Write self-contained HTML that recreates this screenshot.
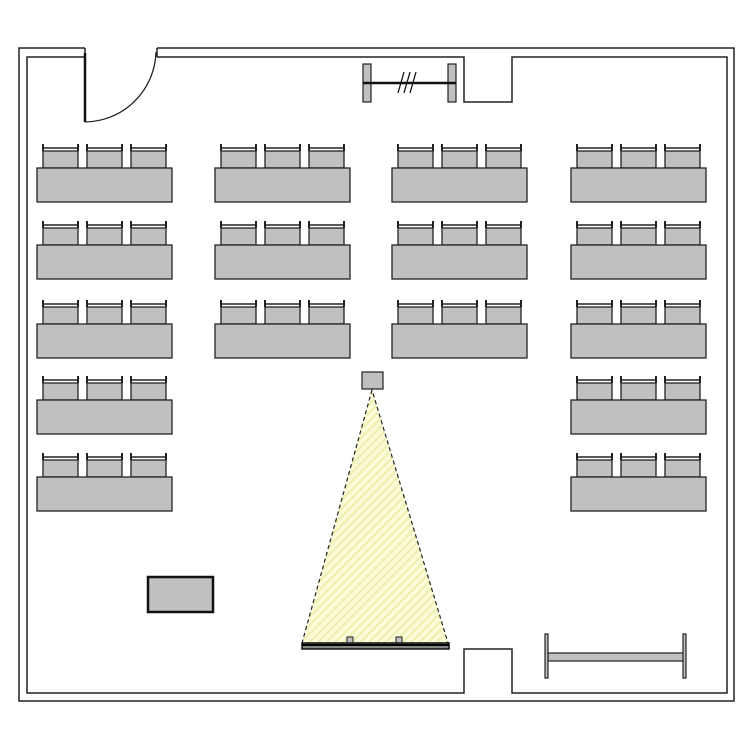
<!DOCTYPE html>
<html><head><meta charset="utf-8"><style>html,body{margin:0;padding:0;background:#fff}</style></head>
<body>
<svg width="750" height="750" viewBox="0 0 750 750" xmlns="http://www.w3.org/2000/svg">
<defs>
<pattern id="hatch" patternUnits="userSpaceOnUse" width="6" height="6" patternTransform="rotate(45)">
<rect width="6" height="6" fill="#fbfbd8"/>
<rect width="2" height="6" fill="#eeeeb0"/>
</pattern>
<g id="ch">
<rect x="0" y="-17" width="35" height="17" fill="#c0c0c0" stroke="#222" stroke-width="1.3"/>
<path d="M-1,-20 L36,-20" stroke="#222" stroke-width="1.5"/>
<path d="M0,-24 L0,-17 M35,-24 L35,-17" stroke="#222" stroke-width="2"/>
</g>
<g id="tg">
<use href="#ch" x="6"/>
<use href="#ch" x="50"/>
<use href="#ch" x="94"/>
<rect x="0" y="0" width="135" height="34" fill="#c0c0c0" stroke="#222" stroke-width="1.3"/>
</g>
</defs>
<g fill="none" stroke="#222" stroke-width="1.5">
<!-- outer wall -->
<path d="M85,48 L19,48 L19,701 L734,701 L734,48 L157,48"/>
<!-- inner wall -->
<path d="M85,57 L27,57 L27,693 L464,693 L464,649 L512,649 L512,693 L727,693 L727,57 L512,57 L512,102 L464,102 L464,57 L157,57"/>
<path d="M85,48 L85,57 M157,48 L157,57"/>
</g>
<!-- door -->
<path d="M85,53 L85,122" stroke="#111" stroke-width="2.5"/>
<path d="M85,122 A72,72 0 0 0 156,52" fill="none" stroke="#222" stroke-width="1.3"/>
<!-- top whiteboard -->
<rect x="363" y="64" width="8" height="38" fill="#c0c0c0" stroke="#222" stroke-width="1.2"/>
<rect x="448" y="64" width="8" height="38" fill="#c0c0c0" stroke="#222" stroke-width="1.2"/>
<line x1="363" y1="83" x2="456" y2="83" stroke="#111" stroke-width="2.5"/>
<path d="M398,93 L404,72 M404,93 L410,72 M410,93 L416,72" stroke="#111" stroke-width="1.3"/>
<!-- tables -->
<use href="#tg" x="37" y="168"/><use href="#tg" x="215" y="168"/><use href="#tg" x="392" y="168"/><use href="#tg" x="571" y="168"/>
<use href="#tg" x="37" y="245"/><use href="#tg" x="215" y="245"/><use href="#tg" x="392" y="245"/><use href="#tg" x="571" y="245"/>
<use href="#tg" x="37" y="324"/><use href="#tg" x="215" y="324"/><use href="#tg" x="392" y="324"/><use href="#tg" x="571" y="324"/>
<use href="#tg" x="37" y="400"/><use href="#tg" x="571" y="400"/>
<use href="#tg" x="37" y="477"/><use href="#tg" x="571" y="477"/>
<!-- projector beam -->
<polygon points="372,390 302,643 448,643" fill="url(#hatch)" stroke="#222" stroke-width="1.2" stroke-dasharray="4,3"/>
<rect x="362" y="372" width="21" height="17" fill="#c0c0c0" stroke="#222" stroke-width="1.2"/>
<!-- screen -->
<rect x="347" y="637" width="6" height="7" fill="#c0c0c0" stroke="#222" stroke-width="1"/>
<rect x="396" y="637" width="6" height="7" fill="#c0c0c0" stroke="#222" stroke-width="1"/>
<rect x="302" y="643" width="147" height="6" fill="#888" stroke="#111" stroke-width="1.5"/>
<line x1="302" y1="645" x2="449" y2="645" stroke="#000" stroke-width="2"/>
<!-- desk -->
<rect x="148" y="577" width="65" height="35" fill="#c0c0c0" stroke="#111" stroke-width="2.5"/>
<!-- bench -->
<rect x="548" y="653" width="136" height="8" fill="#c0c0c0" stroke="#222" stroke-width="1.2"/>
<rect x="545" y="634" width="3" height="44" fill="#c0c0c0" stroke="#222" stroke-width="1.2"/>
<rect x="683" y="634" width="3" height="44" fill="#c0c0c0" stroke="#222" stroke-width="1.2"/>
</svg>
</body></html>
